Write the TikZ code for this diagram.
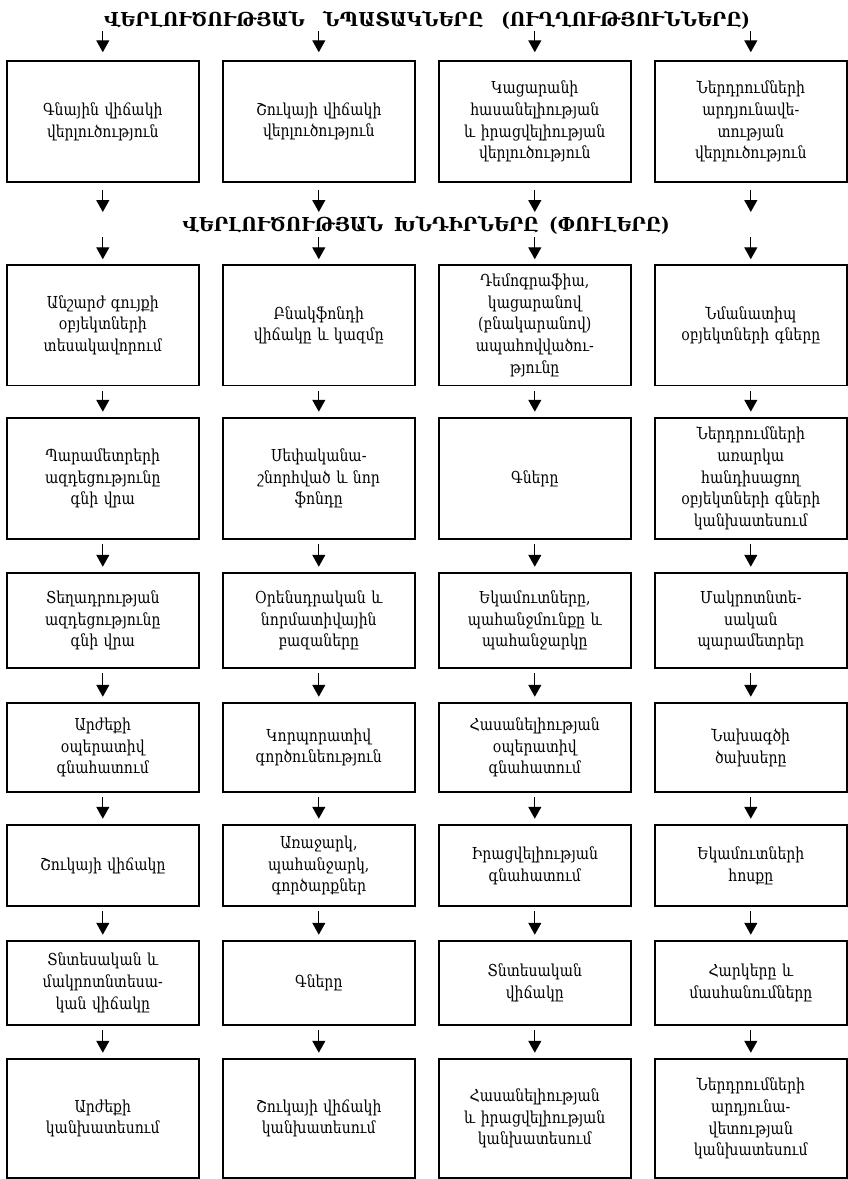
\documentclass[tikz,border=0pt]{standalone}
\usepackage{fontspec}
\setmainfont{DejaVu Serif}
\newfontfamily\boxfont{DejaVu Serif}[FakeStretch=0.85]
\newfontfamily\headfont{DejaVu Serif}[FakeStretch=0.94]
\usetikzlibrary{arrows.meta}

\tikzset{
  stepbox/.style={draw, line width=1.5pt, minimum width=192pt, text width=186pt,
    align=center, inner sep=0pt, font=\boxfont\fontsize{16.5}{21.7}\selectfont},
  arr/.style={line width=1.3pt, -{Triangle[length=12pt,width=13pt]}},
  headline/.style={inner sep=0pt, anchor=base, font=\headfont\bfseries\fontsize{19.2}{21}\selectfont}
}

\begin{document}
\begin{tikzpicture}[x=1pt,y=-1pt]
\useasboundingbox (0,0) rectangle (847,1179);

% headings
\node[headline] (head1) at (427,26.5)
  {\makebox[646pt][s]{ՎԵՐԼՈՒԾՈՒԹՅԱՆ\hfill ՆՊԱՏԱԿՆԵՐԸ\hfill (ՈՒՂՂՈՒԹՅՈՒՆՆԵՐԸ)}};
\node[headline] (head2) at (426,231.5)
  {\makebox[487pt][s]{ՎԵՐԼՈՒԾՈՒԹՅԱՆ\hfill ԽՆԴԻՐՆԵՐԸ\hfill (ՓՈՒԼԵՐԸ)}};

% row 1: directions
\node[stepbox, minimum height=121pt] (box-1-1) at (102.8,121.5) {Գնային վիճակի\\վերլուծություն};
\node[stepbox, minimum height=121pt] (box-1-2) at (318.8,121.5) {Շուկայի վիճակի\\վերլուծություն};
\node[stepbox, minimum height=121pt] (box-1-3) at (534.8,121.5) {Կացարանի\\հասանելիության\\և իրացվելիության\\վերլուծություն};
\node[stepbox, minimum height=121pt] (box-1-4) at (750.8,121.5) {Ներդրումների\\արդյունավե-\\տության\\վերլուծություն};

% row 2
\node[stepbox, minimum height=120.5pt] (box-2-1) at (102.8,325.25) {Անշարժ գույքի\\օբյեկտների\\տեսակավորում};
\node[stepbox, minimum height=120.5pt] (box-2-2) at (318.8,325.25) {Բնակֆոնդի\\վիճակը և կազմը};
\node[stepbox, minimum height=120.5pt] (box-2-3) at (534.8,325.25) {Դեմոգրաֆիա,\\կացարանով\\(բնակարանով)\\ապահովվածու-\\թյունը};
\node[stepbox, minimum height=120.5pt] (box-2-4) at (750.8,325.25) {Նմանատիպ\\օբյեկտների գները};

% row 3
\node[stepbox, minimum height=121pt] (box-3-1) at (102.8,478.5) {Պարամետրերի\\ազդեցությունը\\գնի վրա};
\node[stepbox, minimum height=121pt] (box-3-2) at (318.8,478.5) {Սեփականա-\\շնորհված և նոր\\ֆոնդը};
\node[stepbox, minimum height=121pt] (box-3-3) at (534.8,478.5) {Գները};
\node[stepbox, minimum height=121pt] (box-3-4) at (750.8,478.5) {Ներդրումների\\առարկա\\հանդիսացող\\օբյեկտների գների\\կանխատեսում};

% row 4
\node[stepbox, minimum height=95pt] (box-4-1) at (102.8,620.5) {Տեղադրության\\ազդեցությունը\\գնի վրա};
\node[stepbox, minimum height=95pt] (box-4-2) at (318.8,620.5) {Օրենսդրական և\\նորմատիվային\\բազաները};
\node[stepbox, minimum height=95pt] (box-4-3) at (534.8,620.5) {Եկամուտները,\\պահանջմունքը և\\պահանջարկը};
\node[stepbox, minimum height=95pt] (box-4-4) at (750.8,620.5) {Մակրոտնտե-\\սական\\պարամետրեր};

% row 5
\node[stepbox, minimum height=89pt] (box-5-1) at (102.8,747.5) {Արժեքի\\օպերատիվ\\գնահատում};
\node[stepbox, minimum height=89pt] (box-5-2) at (318.8,747.5) {Կորպորատիվ\\գործունեություն};
\node[stepbox, minimum height=89pt] (box-5-3) at (534.8,747.5) {Հասանելիության\\օպերատիվ\\գնահատում};
\node[stepbox, minimum height=89pt] (box-5-4) at (750.8,747.5) {Նախագծի\\ծախսերը};

% row 6
\node[stepbox, minimum height=81pt] (box-6-1) at (102.8,865.5) {Շուկայի վիճակը};
\node[stepbox, minimum height=81pt] (box-6-2) at (318.8,865.5) {Առաջարկ,\\պահանջարկ,\\գործարքներ};
\node[stepbox, minimum height=81pt] (box-6-3) at (534.8,865.5) {Իրացվելիության\\գնահատում};
\node[stepbox, minimum height=81pt] (box-6-4) at (750.8,865.5) {Եկամուտների\\հոսքը};

% row 7
\node[stepbox, minimum height=84pt] (box-7-1) at (102.8,983) {Տնտեսական և\\մակրոտնտեսա-\\կան վիճակը};
\node[stepbox, minimum height=84pt] (box-7-2) at (318.8,983) {Գները};
\node[stepbox, minimum height=84pt] (box-7-3) at (534.8,983) {Տնտեսական\\վիճակը};
\node[stepbox, minimum height=84pt] (box-7-4) at (750.8,983) {Հարկերը և\\մասհանումները};

% row 8: forecasts
\node[stepbox, minimum height=119pt] (box-8-1) at (102.8,1118.5) {Արժեքի\\կանխատեսում};
\node[stepbox, minimum height=119pt] (box-8-2) at (318.8,1118.5) {Շուկայի վիճակի\\կանխատեսում};
\node[stepbox, minimum height=119pt] (box-8-3) at (534.8,1118.5) {Հասանելիության\\և իրացվելիության\\կանխատեսում};
\node[stepbox, minimum height=119pt] (box-8-4) at (750.8,1118.5) {Ներդրումների\\արդյունա-\\վետության\\կանխատեսում};

% arrow ends around the headings
\foreach \c/\x in {1/102.8,2/318.8,3/534.8,4/750.8}{
  \coordinate (top-\c) at (\x,31);
  \coordinate (mida-\c) at (\x,212);
  \coordinate (midb-\c) at (\x,237);
}

% connectors
\foreach \c in {1,2,3,4}{
  \draw[arr, shorten >=8pt] (top-\c) -- (box-1-\c);
  \draw[arr, shorten <=7pt] (box-1-\c) -- (mida-\c);
  \draw[arr, shorten >=5pt] (midb-\c) -- (box-2-\c);
  \foreach \r/\s in {2/3,3/4,4/5,5/6,6/7,7/8}{
    \draw[arr, shorten <=4.5pt, shorten >=5.5pt] (box-\r-\c) -- (box-\s-\c);
  }
}
\end{tikzpicture}
\end{document}
